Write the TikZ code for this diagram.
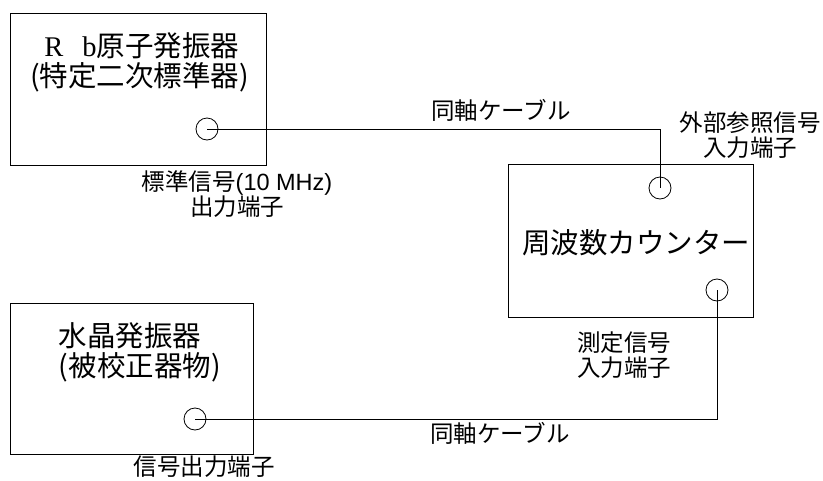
\documentclass[tikz,border=0pt]{standalone}
\usepackage{fontspec}
\setmainfont{Noto Sans CJK JP}
\newfontfamily\latinserif{Liberation Serif}
\newfontfamily\latinsans{Liberation Sans}
\begin{document}
\begin{tikzpicture}[x=1pt,y=-1pt,line width=0.8pt,
  box/.style={draw,line width=0.8pt,inner sep=0pt,anchor=north west},
  port/.style={draw,circle,minimum size=22pt,inner sep=0pt,line width=0.8pt},
  cable/.style={draw,line width=0.8pt},
  big/.style={font=\fontsize{28.5}{30}\selectfont,inner sep=0pt},
  small/.style={font=\fontsize{23.5}{25}\selectfont,inner sep=0pt}]
\useasboundingbox (0,0) rectangle (823,480);
% boxes
\node[box,minimum width=256pt,minimum height=152pt] (rb) at (10,13) {};
\node[box,minimum width=245pt,minimum height=153pt] (cnt) at (508,164) {};
\node[box,minimum width=243pt,minimum height=151pt] (xo) at (10,303) {};
% box texts
\node[big,align=center] (rbtxt) at (139.5,62) {\makebox[1em][c]{\latinserif R}\makebox[1em][r]{\latinserif b}原子発振器\\(特定二次標準器)};
\node[big] (cnttxt) at (636,243) {周波数カウンター};
\node[big,align=left,anchor=west] (xotxt) at (58.5,352) {水晶発振器\\(被校正器物)};
% ports
\node[port] (p1) at (207,129) {};
\node[port] (p2) at (660,188) {};
\node[port] (p3) at (717,290) {};
\node[port] (p4) at (195,419) {};
% cables
\draw[cable] (p1.center) -| (p2.center);
\draw[cable] (p3.center) |- (p4.center);
% labels
\node[small,align=center] (l1) at (237,194.5) {標準信号{\latinsans(10 MHz)}\\出力端子};
\node[small] (l2) at (501,110) {同軸ケーブル};
\node[small,align=center] (l3) at (750,135) {外部参照信号\\入力端子};
\node[small,align=center] (l4) at (624,355) {測定信号\\入力端子};
\node[small] (l5) at (500,433) {同軸ケーブル};
\node[small] (l6) at (204,467) {信号出力端子};
\end{tikzpicture}
\end{document}
